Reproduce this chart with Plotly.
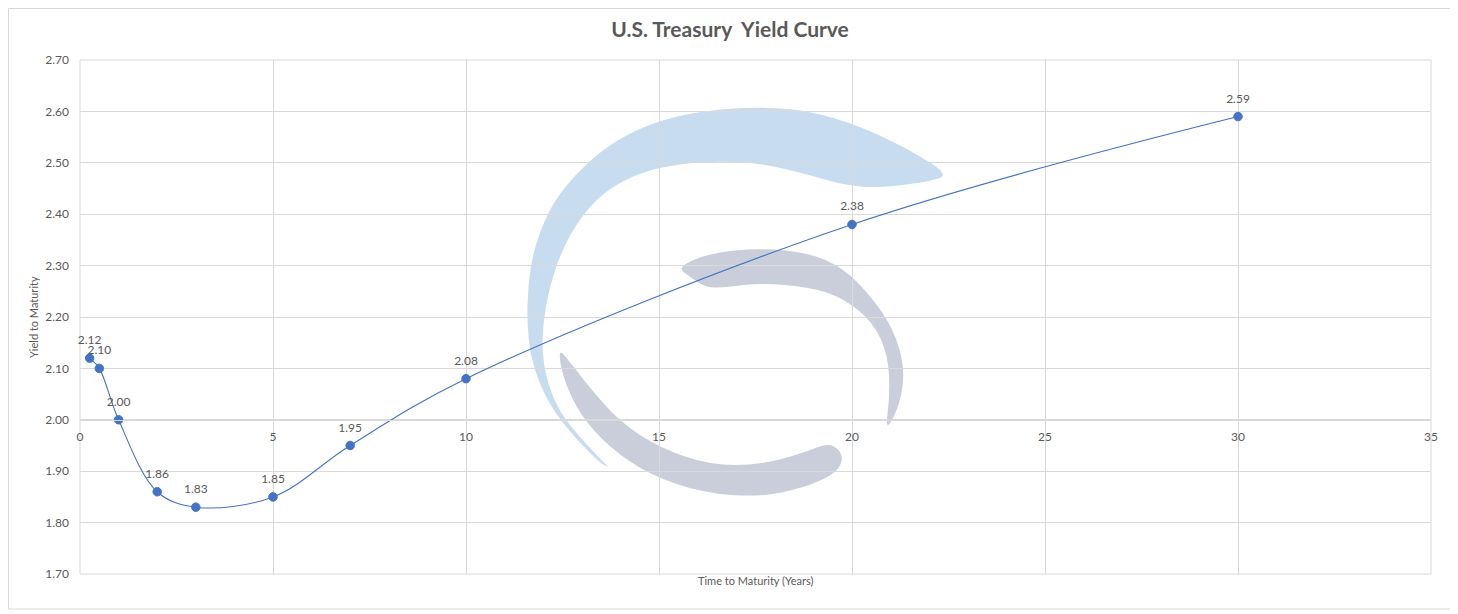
import plotly.graph_objects as go

# ---- data ----
maturity_years = [0.25, 0.5, 1, 2, 3, 5, 7, 10, 20, 30]
yield_pct = [2.12, 2.10, 2.00, 1.86, 1.83, 1.85, 1.95, 2.08, 2.38, 2.59]
x_ticks = [0, 5, 10, 15, 20, 25, 30, 35]
y_ticks = [1.70, 1.80, 1.90, 2.00, 2.10, 2.20, 2.30, 2.40, 2.50, 2.60, 2.70]

# the page body adds an 8px offset; work in screen pixels and shift
OFF = 8
SW, SH = 1458, 614
W, H = SW - OFF, SH - OFF
PL, PR, PT, PB = 80, 1431, 60, 574          # plot area in screen pixels
ML, MT = PL - OFF, PT - OFF
MR, MB = SW - PR, SH - PB
PW, PH = PR - PL, PB - PT

FONT = "Lato, 'Open Sans', sans-serif"
GRAY = "#595959"
GRID = "#D9D9D9"
BLUE = "#4472C4"


def px2paper(x, y):
    return (x - PL) / PW, (PB - y) / PH


def smooth_path(pts):
    p = [px2paper(*q) for q in pts]
    n = len(p)
    mids = [((p[i][0] + p[(i + 1) % n][0]) / 2, (p[i][1] + p[(i + 1) % n][1]) / 2) for i in range(n)]
    d = "M %.5f,%.5f " % mids[-1]
    for i in range(n):
        d += "Q %.5f,%.5f %.5f,%.5f " % (p[i][0], p[i][1], mids[i][0], mids[i][1])
    return d + "Z"


# decorative watermark outlines (screen pixel space)
blue_crescent = [
    (610, 468), (598, 462), (552, 412), (531, 362), (527, 322), (528, 288), (532, 258),
    (541, 228), (555, 200), (575, 175), (602, 150), (635, 130), (675, 116), (720, 109),
    (765, 107), (810, 111), (860, 126), (910, 150), (950, 175),
    (927, 182), (877, 188), (843, 185), (810, 175), (760, 163), (710, 161), (665, 166),
    (632, 176), (603, 193), (580, 218), (562, 250), (550, 285), (543, 322), (542, 362),
    (557, 412), (603, 462),
]
gray_upper = [
    (677, 267), (710, 253), (760, 248), (810, 253), (843, 268), (870, 295), (893, 328),
    (905, 368), (900, 405), (885, 433),
    (890, 395), (888, 355), (873, 322), (843, 298), (810, 287), (760, 283), (727, 287),
    (707, 288), (690, 277),
]
gray_lower = [
    (558, 348), (563, 378), (580, 415), (610, 448), (650, 475), (703, 493), (760, 497),
    (803, 488), (833, 475), (843, 462), (840, 450), (828, 443),
    (803, 453), (760, 465), (710, 465), (660, 448), (620, 422), (590, 388), (570, 362),
]

fig = go.Figure()
fig.add_trace(go.Scatter(
    x=maturity_years, y=yield_pct,
    mode="lines+markers",
    line=dict(color=BLUE, width=1.1, shape="spline", smoothing=1.0),
    marker=dict(color=BLUE, size=8.5, line=dict(color=BLUE, width=1)),
    hoverinfo="x+y",
))
# data labels (invisible larger markers push the labels upward)
fig.add_trace(go.Scatter(
    x=maturity_years, y=yield_pct,
    mode="markers+text",
    marker=dict(color="rgba(0,0,0,0)", size=16),
    text=["%.2f" % v for v in yield_pct],
    textposition="top center",
    textfont=dict(family=FONT, size=12, color=GRAY),
    cliponaxis=False,
    hoverinfo="skip",
))

shapes = [
    dict(type="path", path=smooth_path(blue_crescent), xref="paper", yref="paper",
         fillcolor="#C7DDEF", line=dict(width=0), layer="below"),
    dict(type="path", path=smooth_path(gray_upper), xref="paper", yref="paper",
         fillcolor="#C9CEDA", line=dict(width=0), layer="below"),
    dict(type="path", path=smooth_path(gray_lower), xref="paper", yref="paper",
         fillcolor="#C9CEDA", line=dict(width=0), layer="below"),
]
bx0, by0 = px2paper(OFF + 0.5, SH - 5)
bx1, by1 = px2paper(SW - 5, OFF + 0.5)
shapes.append(dict(type="rect", xref="paper", yref="paper", x0=bx0, y0=by0, x1=bx1, y1=by1,
                   line=dict(color=GRID, width=1), fillcolor="rgba(0,0,0,0)", layer="above"))
shapes.append(dict(type="rect", xref="paper", yref="paper", x0=0, y0=0, x1=1, y1=1,
                   line=dict(color=GRID, width=1), fillcolor="rgba(0,0,0,0)", layer="below"))

fig.update_layout(
    width=W, height=H,
    margin=dict(l=ML, r=MR, t=MT, b=MB),
    paper_bgcolor="white", plot_bgcolor="white",
    showlegend=False,
    font=dict(family=FONT, color=GRAY, size=12),
    title=dict(text="<b>U.S. Treasury  Yield Curve</b>", x=(730 - OFF) / W, xref="container",
               y=1 - (30 - OFF) / H, yref="container", yanchor="middle", xanchor="center",
               font=dict(family=FONT, size=21, color=GRAY)),
    xaxis=dict(range=[0, 35], tickvals=x_ticks, ticktext=[str(t) for t in x_ticks],
               showgrid=True, gridcolor=GRID, gridwidth=1, zeroline=False,
               showline=True, linecolor=GRID, linewidth=1,
               anchor="free", position=(2.00 - 1.70) / (2.70 - 1.70),
               ticks="", ticklabelstandoff=6,
               tickfont=dict(family=FONT, size=12, color=GRAY)),
    yaxis=dict(range=[1.70, 2.70], tickvals=y_ticks, ticktext=["%.2f" % t for t in y_ticks],
               showgrid=True, gridcolor=GRID, gridwidth=1, zeroline=False,
               showline=False, ticks="", ticklabelstandoff=10,
               tickfont=dict(family=FONT, size=12, color=GRAY)),
    shapes=shapes,
    annotations=[
        dict(text="Yield to Maturity", xref="paper", yref="paper",
             x=px2paper(33, 0)[0], y=0.5, textangle=-90, showarrow=False,
             xanchor="center", yanchor="middle",
             font=dict(family=FONT, size=11, color=GRAY)),
        dict(text="Time to Maturity (Years)", xref="paper", yref="paper",
             x=0.5, y=px2paper(0, 580)[1], showarrow=False,
             xanchor="center", yanchor="middle",
             font=dict(family=FONT, size=11, color=GRAY)),
    ],
)

fig.write_html("out.html")
